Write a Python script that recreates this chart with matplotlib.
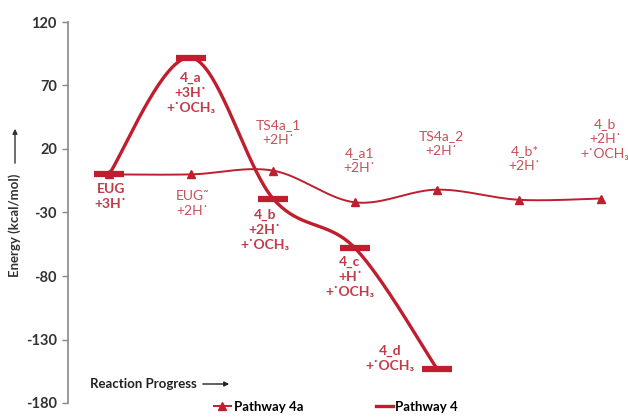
import numpy as np
import matplotlib
matplotlib.use("Agg")
import matplotlib.pyplot as plt
from matplotlib.lines import Line2D

FAM = ['Lato', 'DejaVu Sans']
plt.rcParams['font.family'] = FAM

# Data
x_4a = [0, 1, 2, 3, 4, 5, 6]
e_4a = [0, 0, 3, -22, -12, -20, -19]
labels_4a = ["", "EUG\u02dc\n+2H\u02d9", "TS4a_1\n+2H\u02d9", "4_a1\n+2H\u02d9",
             "TS4a_2\n+2H\u02d9", "4_b*\n+2H\u02d9", "4_b\n+2H\u02d9\n+\u02d9OCH\u2083"]

x_4 = [0, 1, 2, 3, 4]
e_4 = [0, 92, -19, -58, -153]
labels_4 = ["EUG\n+3H\u02d9", "4_a\n+3H\u02d9\n+\u02d9OCH\u2083", "4_b\n+2H\u02d9\n+\u02d9OCH\u2083",
            "4_c\n+H\u02d9\n+\u02d9OCH\u2083", "4_d\n+\u02d9OCH\u2083"]

yticks = [-180, -130, -80, -30, 20, 70, 120]

RED = '#BE1E2D'
LBL = '#C23B48'
LBL2 = '#C8505A'
H = 417


def smooth(xs, ys, n=40):
    xs = np.asarray(xs, float)
    ys = np.asarray(ys, float)
    px = np.concatenate([[xs[0]], xs, [xs[-1]]])
    py = np.concatenate([[ys[0]], ys, [ys[-1]]])
    ox, oy = [], []
    t = np.linspace(0, 1, n)
    for i in range(1, len(px) - 2):
        p0 = np.array([px[i - 1], py[i - 1]]); p1 = np.array([px[i], py[i]])
        p2 = np.array([px[i + 1], py[i + 1]]); p3 = np.array([px[i + 2], py[i + 2]])
        c1 = p1 + (p2 - p0) / 6.0
        c2 = p2 - (p3 - p1) / 6.0
        b = ((1 - t) ** 3)[:, None] * p1 + (3 * (1 - t) ** 2 * t)[:, None] * c1 + \
            (3 * (1 - t) * t ** 2)[:, None] * c2 + (t ** 3)[:, None] * p2
        ox.extend(b[:, 0]); oy.extend(b[:, 1])
    return np.array(ox), np.array(oy)


fig = plt.figure(figsize=(6.28, 4.17), dpi=100)
ax = fig.add_axes([68 / 628, 1 - 403 / H, 1 - 68 / 628, (403 - 22) / H])
ax.set_xlim(-0.5, 6.33)
ax.set_ylim(-180, 120)

sx, sy = smooth(x_4a, e_4a)
ax.plot(sx, sy, color=RED, lw=1.4, zorder=2)
ax.plot(x_4a, e_4a, ls='none', marker='^', ms=6, color=RED, zorder=3)

sx, sy = smooth(x_4, e_4)
ax.plot(sx, sy, color=RED, lw=2.4, zorder=2)
ax.plot(x_4, e_4, ls='none', marker='_', ms=21, mew=4.5, color=RED, zorder=4)

fs = 10
# Pathway 4a labels (normal weight)
off_4a = [None, (1.02, -12), (2.07, 19), (3.05, 22), (4.05, 26), (5.07, 22), (6.05, 30)]
for i, lab in enumerate(labels_4a):
    if not lab:
        continue
    xx, dy = off_4a[i]
    va = 'top' if dy < 0 else 'bottom'
    ax.text(xx, e_4a[i] + dy, lab, ha='center', va=va,
            color=LBL2, fontsize=fs, linespacing=1.3, family=FAM)

# Pathway 4 labels (bold)
pos_4 = [(0.02, -6.5), (1.0, 80.5), (1.9, -27), (2.94, -64), (3.43, -134)]
for i, lab in enumerate(labels_4):
    xx, yy = pos_4[i]
    ax.text(xx, yy, lab, ha='center', va='top', color=LBL, fontsize=fs,
            fontweight='bold', linespacing=1.3, family=FAM)

ax.set_yticks(yticks)
ax.set_yticklabels([str(v) for v in yticks], fontweight='bold', fontsize=10.5, color='#333333')
ax.set_xticks([])
for s in ['top', 'right', 'bottom']:
    ax.spines[s].set_visible(False)
ax.spines['left'].set_color('#888888')
ax.spines['left'].set_linewidth(1.2)
ax.tick_params(axis='y', length=4, color='#888888', width=1, pad=4)

# Axis titles with arrows
fig.text(15 / 628, 1 - 277 / H, "Energy (kcal/mol)", rotation=90, ha='center', va='bottom',
         fontsize=9.5, fontweight='bold', color='#333333', family=FAM)
fig.add_artist(matplotlib.patches.FancyArrowPatch(
    (15, H - 166), (15, H - 126), transform=None, arrowstyle='-|>', mutation_scale=7,
    color='#333333', lw=1.0))
fig.text(90 / 628, 1 - 384 / H, "Reaction Progress", ha='left', va='center',
         fontsize=9.5, fontweight='bold', color='#222222', family=FAM)
fig.add_artist(matplotlib.patches.FancyArrowPatch(
    (200, H - 384), (232, H - 384), transform=None, arrowstyle='-|>', mutation_scale=7,
    color='#222222', lw=1.0))

handles = [Line2D([], [], color=RED, lw=1.4, marker='^', ms=6),
           Line2D([], [], color=RED, lw=2.4)]
leg = fig.legend(handles, ['Pathway 4a', 'Pathway 4'], loc='lower center',
                 bbox_to_anchor=(0.535, -0.018), ncol=2, frameon=False,
                 prop={'family': FAM, 'weight': 'bold', 'size': 9.5},
                 handlelength=1.3, handletextpad=0.2, columnspacing=5.5)

fig.savefig('out.png', dpi=100)
